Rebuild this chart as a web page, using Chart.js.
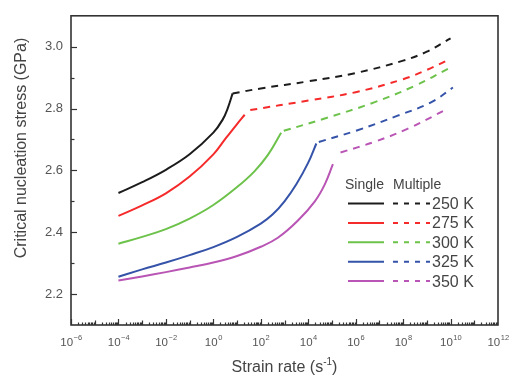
<!DOCTYPE html>
<html>
<head>
<meta charset="utf-8">
<script src="https://cdn.jsdelivr.net/npm/chart.js@4.4.0/dist/chart.umd.min.js"></script>
<style>
  html, body { margin: 0; padding: 0; background: #fff; }
</style>
</head>
<body>
<canvas id="chart" width="512" height="376"></canvas>
<script>
const FONT = '"Liberation Sans", Arial, sans-serif';
const TEXT = '#444';

const temps = ['250 K', '275 K', '300 K', '325 K', '350 K'];
const lineColors = ['#1c1c1c', '#f52a2a', '#6cc24a', '#3553a8', '#b955b4'];

// Single nucleation (solid)
const rate250s = [1e-4, 1e-3, 1e-2, 0.1, 1, 2.5, 4, 6.5];
const stress250s = [2.527, 2.562, 2.602, 2.652, 2.722, 2.765, 2.800, 2.849];
const rate275s = [1e-4, 1e-3, 1e-2, 0.1, 1, 3.2, 10, 21];
const stress275s = [2.453, 2.487, 2.526, 2.580, 2.652, 2.702, 2.750, 2.780];
const rate300s = [1e-4, 1e-3, 1e-2, 0.1, 1, 10, 54, 200, 720];
const stress300s = [2.363, 2.385, 2.410, 2.444, 2.488, 2.546, 2.597, 2.650, 2.722];
const rate325s = [1e-4, 1e-3, 1e-2, 0.1, 1, 10, 100, 320, 1e3, 3.2e3, 1e4, 2.2e4];
const stress325s = [2.256, 2.280, 2.302, 2.326, 2.352, 2.385, 2.428, 2.458, 2.500, 2.556, 2.625, 2.687];
const rate350s = [1e-4, 1e-3, 1e-2, 0.1, 1, 10, 100, 525, 3.6e3, 1.9e4, 5e4, 1.1e5];
const stress350s = [2.244, 2.257, 2.271, 2.286, 2.302, 2.323, 2.353, 2.382, 2.437, 2.500, 2.555, 2.620];

// Multiple nucleation (dashed)
const rate250m = [6.5, 1e2, 1e4, 1e6, 1e8, 1e9, 1e10];
const stress250m = [2.849, 2.865, 2.888, 2.915, 2.955, 2.984, 3.027];
const rate275m = [36, 1e4, 1e6, 1e8, 1e9, 1e10];
const stress275m = [2.795, 2.826, 2.853, 2.895, 2.925, 2.961];
const rate300m = [930, 4.6e4, 6e6, 3e8, 9.1e9];
const stress300m = [2.728, 2.767, 2.820, 2.873, 2.931];
const rate325m = [2.8e4, 1.2e6, 5.9e7, 1.5e9, 1.26e10];
const stress325m = [2.692, 2.730, 2.777, 2.820, 2.868];
const rate350m = [2.3e5, 6e6, 1.6e8, 7.8e9];
const stress350m = [2.658, 2.692, 2.735, 2.800];

const xTickExps = [-6, -4, -2, 0, 2, 4, 6, 8, 10, 12];
const yTicks = [2.2, 2.4, 2.6, 2.8, 3.0];

const singleRates = [rate250s, rate275s, rate300s, rate325s, rate350s];
const singleStress = [stress250s, stress275s, stress300s, stress325s, stress350s];
const multiRates = [rate250m, rate275m, rate300m, rate325m, rate350m];
const multiStress = [stress250m, stress275m, stress300m, stress325m, stress350m];

const toPoints = (xs, ys) => xs.map((v, i) => ({ x: v, y: ys[i] }));

const datasets = [];
temps.forEach((t, i) => {
  datasets.push({
    label: t + ' single',
    data: toPoints(singleRates[i], singleStress[i]),
    borderColor: lineColors[i],
    tension: 0.4
  });
  datasets.push({
    label: t + ' multiple',
    data: toPoints(multiRates[i], multiStress[i]),
    borderColor: lineColors[i],
    borderDash: [7, 6],
    tension: 0.4
  });
});

// frame, inward ticks, x labels, axis titles and legend
const decor = {
  id: 'decor',
  afterDraw(chart) {
    const { ctx, chartArea: a, scales: { x, y } } = chart;
    ctx.save();
    ctx.strokeStyle = '#333';
    ctx.lineWidth = 1.6;
    ctx.strokeRect(a.left, a.top, a.right - a.left, a.bottom - a.top);

    // y ticks
    ctx.lineWidth = 1.2;
    for (let k = 0; k <= 8; k++) {
      const py = Math.round(y.getPixelForValue(2.2 + k * 0.1)) + 0.5;
      const len = k % 2 === 0 ? 6 : 3.5;
      ctx.beginPath();
      ctx.moveTo(a.left, py);
      ctx.lineTo(a.left + len, py);
      ctx.stroke();
    }
    // x ticks
    for (let e = -6; e < 12; e++) {
      for (let m = 1; m < 10; m++) {
        const px = Math.round(x.getPixelForValue(m * Math.pow(10, e))) + 0.5;
        const len = m === 1 ? (e % 2 === 0 ? 6 : 4.5) : 2.5;
        ctx.beginPath();
        ctx.moveTo(px, a.bottom);
        ctx.lineTo(px, a.bottom - len);
        ctx.stroke();
      }
    }

    // x tick labels 10^n
    ctx.fillStyle = '#555';
    ctx.textBaseline = 'alphabetic';
    xTickExps.forEach(e => {
      const px = x.getPixelForValue(Math.pow(10, e));
      ctx.font = '11.5px ' + FONT;
      const wb = ctx.measureText('10').width;
      ctx.font = '7.5px ' + FONT;
      const sup = String(e).replace('-', '\u2212');
      const ws = ctx.measureText(sup).width;
      const x0 = px - (wb + ws) / 2;
      ctx.font = '11.5px ' + FONT;
      ctx.textAlign = 'left';
      ctx.fillText('10', x0, 346);
      ctx.font = '7.5px ' + FONT;
      ctx.fillText(sup, x0 + wb + 0.5, 339.5);
    });

    // x title
    ctx.fillStyle = TEXT;
    ctx.font = '16px ' + FONT;
    const t1 = 'Strain rate (s';
    const w1 = ctx.measureText(t1).width;
    ctx.font = '10px ' + FONT;
    const w2 = ctx.measureText('-1').width;
    ctx.font = '16px ' + FONT;
    const w3 = ctx.measureText(')').width;
    let tx = (a.left + a.right) / 2 - (w1 + w2 + w3) / 2;
    ctx.textAlign = 'left';
    ctx.fillText(t1, tx, 372);
    ctx.font = '10px ' + FONT;
    ctx.fillText('-1', tx + w1, 365);
    ctx.font = '16px ' + FONT;
    ctx.fillText(')', tx + w1 + w2, 372);

    // y title
    ctx.save();
    ctx.translate(22, 148);
    ctx.rotate(-Math.PI / 2);
    ctx.textAlign = 'center';
    ctx.textBaseline = 'middle';
    ctx.fillText('Critical nucleation stress (GPa)', 0, 0);
    ctx.restore();

    // legend
    ctx.font = '14px ' + FONT;
    ctx.textAlign = 'left';
    ctx.textBaseline = 'middle';
    ctx.fillText('Single', 345, 185);
    ctx.fillText('Multiple', 393, 185);
    ctx.font = '16px ' + FONT;
    temps.forEach((t, i) => {
      const ly = 203.5 + i * 19.4;
      ctx.strokeStyle = lineColors[i];
      ctx.lineWidth = 2;
      ctx.setLineDash([]);
      ctx.beginPath();
      ctx.moveTo(348, ly);
      ctx.lineTo(384, ly);
      ctx.stroke();
      ctx.setLineDash([5, 6]);
      ctx.beginPath();
      ctx.moveTo(393, ly);
      ctx.lineTo(430, ly);
      ctx.stroke();
      ctx.setLineDash([]);
      ctx.fillStyle = TEXT;
      ctx.fillText(t, 432, ly + 1);
    });
    ctx.restore();
  }
};

new Chart(document.getElementById('chart'), {
  type: 'line',
  data: { datasets: datasets },
  options: {
    responsive: false,
    animation: false,
    layout: { padding: { top: 12, right: 14, left: 0, bottom: 0 } },
    plugins: {
      legend: { display: false },
      tooltip: { enabled: false }
    },
    elements: {
      point: { radius: 0 },
      line: { borderWidth: 2 }
    },
    scales: {
      x: {
        type: 'logarithmic',
        min: 1e-6,
        max: 1e12,
        grid: { display: false },
        border: { display: false },
        ticks: { display: false },
        afterFit(s) { s.height = 51; }
      },
      y: {
        min: 2.1,
        max: 3.1,
        grid: { display: false, drawTicks: false },
        border: { display: false },
        ticks: {
          padding: 8,
          color: '#555',
          font: { family: FONT, size: 13 },
          callback: v => v.toFixed(1)
        },
        afterBuildTicks(s) { s.ticks = yTicks.map(v => ({ value: v })); },
        afterFit(s) { s.width = 71; }
      }
    }
  },
  plugins: [decor]
});
</script>
</body>
</html>
